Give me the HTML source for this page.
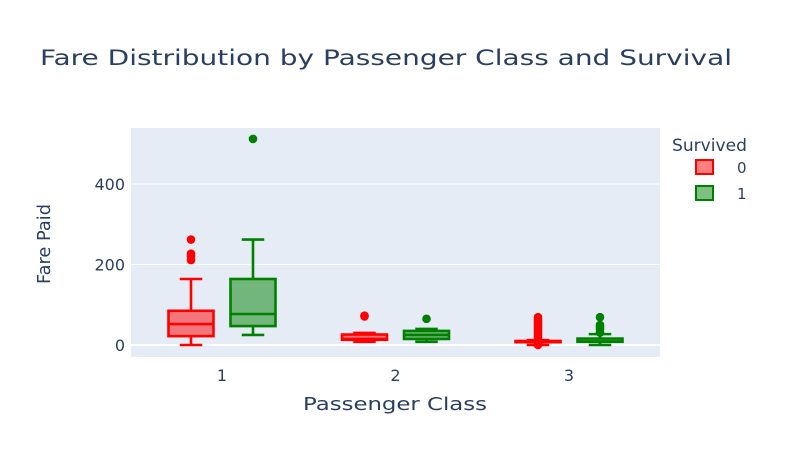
<!DOCTYPE html>
<html><head><meta charset="utf-8"><style>
body{margin:0;background:#fff;font-family:"Liberation Sans",sans-serif}
svg text{font-family:"DejaVu Sans","Liberation Sans",sans-serif;fill:#2a3f5f}
</style></head><body>
<svg width="800" height="460" id="c">
<rect x="0" y="0" width="800" height="460" fill="#fff"/>
<text x="40" y="65" font-size="21" textLength="692" lengthAdjust="spacingAndGlyphs">Fare Distribution by Passenger Class and Survival</text>
<rect x="131" y="128" width="529" height="229" fill="#e5ecf6"/>
<g id="grid"></g><g id="marks"></g>
<text x="303" y="410" font-size="18" textLength="184" lengthAdjust="spacingAndGlyphs">Passenger Class</text>
<text transform="translate(50,284) rotate(-90)" font-size="18" textLength="80" lengthAdjust="spacingAndGlyphs">Fare Paid</text>
<g>
<text x="672" y="151" font-size="17" textLength="75" lengthAdjust="spacingAndGlyphs">Survived</text>
<g><rect x="696" y="160" width="17" height="14" fill="rgba(255,0,0,0.5)" stroke="#f00" stroke-width="2"/><text x="737" y="173" font-size="15">0</text></g>
<g><rect x="696" y="186" width="17" height="14" fill="rgba(0,128,0,0.5)" stroke="#008000" stroke-width="2"/><text x="737" y="199" font-size="15">1</text></g>
</g>
</svg>
<script>
const categories=[1,2,3];
const yTicks=[0,200,400];
// [lowerWhisker,q1,median,q3,upperWhisker]
const died=[[0,22,52,85,164],[8,13,15,26,30],[0,7,8,10,12]];
const survived=[[25,47,77,164,262],[8,15,25,35,40],[0,8,9,16,27]];
const diedOutliers=[[211,221,227,262],[73,71],[15,20,25,30,35,40,45,50,55,60,65,69,0]];
const survivedOutliers=[[512],[65],[31,40,45,50,69]];
const NS='http://www.w3.org/2000/svg';
const y=v=>345-v*0.4025;
const x=c=>222+(c-1)*173.5;
function mk(tag,attrs,parent){const e=document.createElementNS(NS,tag);for(const k in attrs)e.setAttribute(k,attrs[k]);parent.appendChild(e);return e;}
const grid=document.getElementById('grid'),marks=document.getElementById('marks'),svg=document.getElementById('c');
yTicks.forEach(t=>{
 const l=mk('line',{x1:131,x2:660,y1:y(t),y2:y(t),stroke:'#fff','stroke-width':t===0?2:1},grid);
 
 
 const tx=mk('text',{x:125,y:y(t)+6,'text-anchor':'end','font-size':16},svg);tx.textContent=t;
 
 
});
categories.forEach(c=>{
 const tx=mk('text',{x:x(c),y:381,'text-anchor':'middle','font-size':16},svg);tx.textContent=c;
 
 
});
function box(cx,s,out,col,fill,name){
 const g=mk('g',{},marks);
 
 
 const w=45,hw=w/2,cw=w/4,sw=2.6;
 mk('line',{x1:cx,x2:cx,y1:y(s[0]),y2:y(s[1]),stroke:col,'stroke-width':sw},g);
 mk('line',{x1:cx,x2:cx,y1:y(s[3]),y2:y(s[4]),stroke:col,'stroke-width':sw},g);
 mk('line',{x1:cx-cw,x2:cx+cw,y1:y(s[0]),y2:y(s[0]),stroke:col,'stroke-width':sw},g);
 mk('line',{x1:cx-cw,x2:cx+cw,y1:y(s[4]),y2:y(s[4]),stroke:col,'stroke-width':sw},g);
 mk('rect',{x:cx-hw,y:y(s[3]),width:w,height:Math.max(1,y(s[1])-y(s[3])),fill:fill,stroke:col,'stroke-width':sw},g);
 mk('line',{x1:cx-hw,x2:cx+hw,y1:y(s[2]),y2:y(s[2]),stroke:col,'stroke-width':sw},g);
 out.forEach(v=>mk('circle',{cx:cx,cy:y(v),r:4.3,fill:col},g));
}
categories.forEach((c,i)=>{
 box(x(c)-31,died[i],diedOutliers[i],'#ff0000','rgba(255,0,0,0.5)','box-died-class-'+c);
 box(x(c)+31,survived[i],survivedOutliers[i],'#008000','rgba(0,128,0,0.5)','box-survived-class-'+c);
});
</script>
</body></html>
